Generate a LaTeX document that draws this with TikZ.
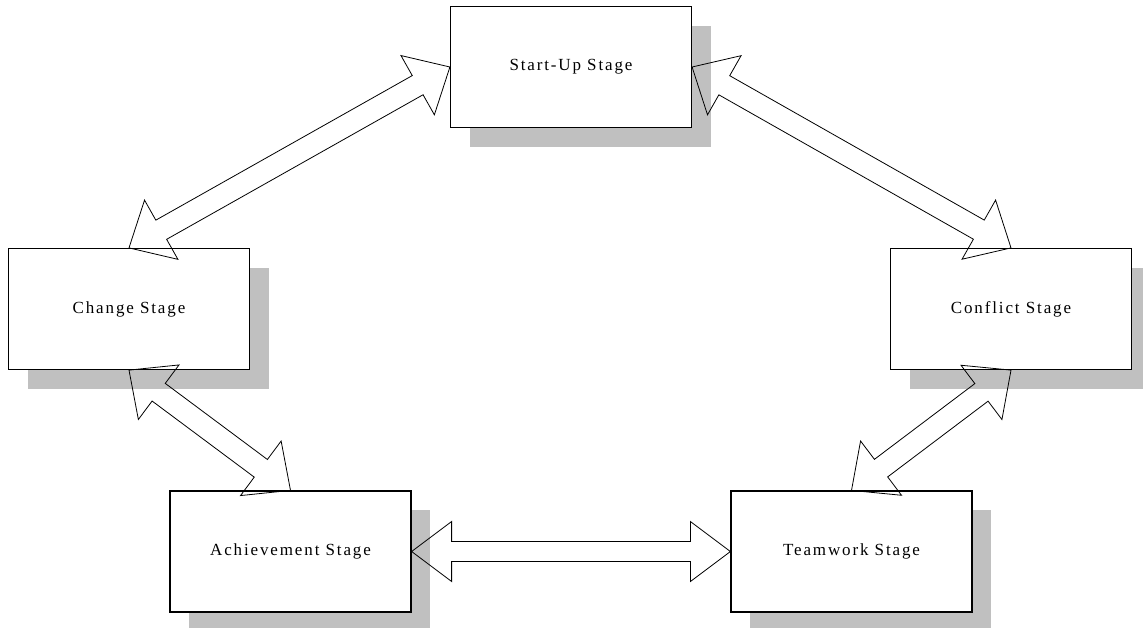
\documentclass[tikz,border=0pt]{standalone}
\usepackage{fontspec}
\setmainfont{Liberation Serif}[LetterSpace=11]
\usetikzlibrary{calc}
\definecolor{shadowgray}{RGB}{192,192,192}
\tikzset{
  stagebox/.style={draw=black, line width=1.2pt, fill=white, minimum width=241pt,
    minimum height=121pt, inner sep=0pt, font=\fontsize{17}{20}\selectfont},
  boxshadow/.style={fill=shadowgray, draw=none},
  blockarrow/.style={draw=black, line width=0.8pt, line join=miter},
}
\newcommand{\stage}[4]{%
  \fill[boxshadow] (#2-120.5+19, #3-60.5+19) rectangle (#2+120.5+19, #3+60.5+19);
  \node[stagebox] (#1) at (#2,#3) {#4};
}
\newcommand{\dblarrow}[5]{%
  \coordinate (ha) at ($(#1)!#3!(#2)$);
  \coordinate (hb) at ($(#2)!#3!(#1)$);
  \draw[blockarrow] (#1) -- ($(ha)!#4!90:(#2)$) -- ($(ha)!#5!90:(#2)$)
    -- ($(hb)!#5!-90:(#1)$) -- ($(hb)!#4!-90:(#1)$) -- (#2)
    -- ($(hb)!#4!90:(#1)$) -- ($(hb)!#5!90:(#1)$)
    -- ($(ha)!#5!-90:(#2)$) -- ($(ha)!#4!-90:(#2)$) -- cycle;
}
\begin{document}
\begin{tikzpicture}[x=1pt, y=-1pt]
  \useasboundingbox (0,0) rectangle (1143,627);
  \clip (0,0) rectangle (1143,627);
  \stage{su}{571}{67}{Start-Up Stage}
  \stage{ch}{129}{309}{Change Stage}
  \stage{co}{1011}{309}{Conflict Stage}
  \stage{ac}{290.5}{551.5}{Achievement Stage}
  \stage{tw}{851.5}{551.5}{Teamwork Stage}
  \dblarrow{su.west}{ch.north}{37pt}{34pt}{11pt}
  \dblarrow{su.east}{co.north}{37pt}{34pt}{11pt}
  \dblarrow{ch.south}{ac.north}{37pt}{34pt}{11pt}
  \dblarrow{co.south}{tw.north}{37pt}{34pt}{11pt}
  \dblarrow{ac.east}{tw.west}{40pt}{30pt}{10pt}
\end{tikzpicture}
\end{document}
